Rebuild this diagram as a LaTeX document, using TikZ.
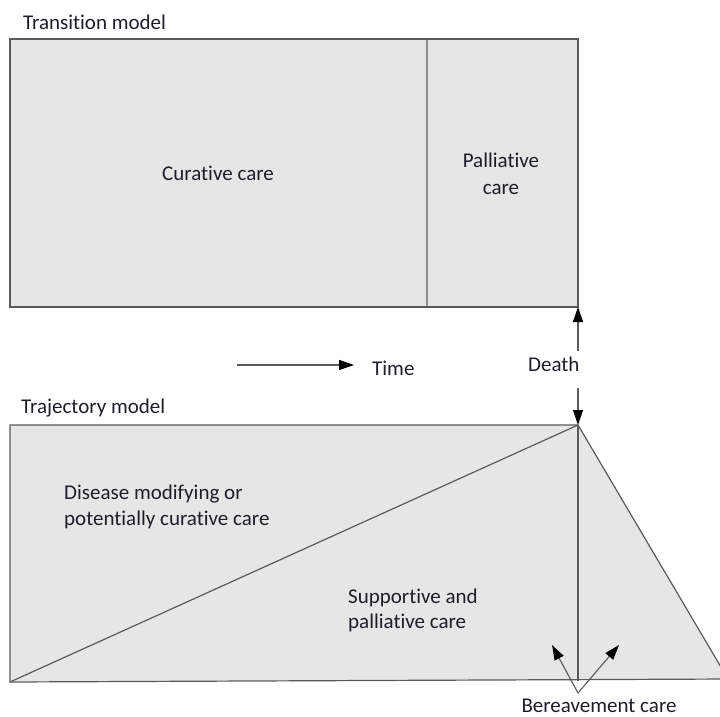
\documentclass[tikz,border=0pt]{standalone}
\usepackage{fontspec}
\setmainfont{Carlito}[Ligatures=NoCommon]
\usetikzlibrary{arrows.meta}
\definecolor{boxfill}{HTML}{E6E6E6}
\definecolor{edge}{HTML}{5A5A5A}
\definecolor{divider}{HTML}{8C8C8C}
\definecolor{txt}{HTML}{1E1E28}
\begin{document}
\begin{tikzpicture}[x=1pt,y=-1pt,
  lbl/.style={inner sep=0pt, text=txt, font=\fontsize{21}{26}\selectfont},
  areabox/.style={draw=edge, fill=boxfill, line width=1.2pt},
  ptr/.style={draw=edge, line width=1.1pt, -{Triangle[length=15pt,width=10pt,fill=black,color=black]}}
]
\useasboundingbox (0,0) rectangle (720,716);
\clip (0,0) rectangle (720,716);
% top model
\node[lbl, anchor=base west] (ttitle) at (23,29) {Transition model};
\draw[areabox] (10,39) rectangle (578,307);
\draw[divider, line width=2pt] (427,40) -- (427,306);
\coordinate (topcorner) at (578,307);
\node[lbl, anchor=base] (cur) at (218,180) {Curative care};
\node[lbl, anchor=base] (pal1) at (501,167) {Palliative};
\node[lbl, anchor=base] (pal2) at (501,194) {care};
% time
\coordinate (tstart) at (237,365);
\node[lbl, anchor=base west] (time) at (372,375) {Time};
\coordinate (tend) at (354,365);
\draw[ptr] (tstart) -- (tend);
% death
\node[lbl, anchor=base west] (death) at (528,371) {Death};
\coordinate (dup) at (578,351);
\coordinate (ddown) at (578,388);
% bottom model
\node[lbl, anchor=base west] (btitle) at (21,413) {Trajectory model};
\coordinate (bl) at (10,682);
\coordinate (tl) at (10,425);
\coordinate (tr) at (578,425);
\coordinate (br) at (578,680.5);
\draw[areabox] (bl) -- (tl) -- (tr) -- (728,679) -- cycle;
\draw[edge, line width=1.2pt] (bl) -- (tr);
\draw[edge, line width=1.3pt] (tr) -- (br);
\draw[ptr] (dup) -- (topcorner);
\draw[ptr] (ddown) -- (tr);
\node[lbl, anchor=base west] (dis1) at (64,499) {Disease modifying or};
\node[lbl, anchor=base west] (dis2) at (64,525) {potentially curative care};
\node[lbl, anchor=base west] (sup1) at (348,603) {Supportive and};
\node[lbl, anchor=base west] (sup2) at (348,628) {palliative care};
% bereavement
\coordinate (apex) at (578,693);
\coordinate (bleft) at (552,645);
\coordinate (bright) at (619,645);
\draw[ptr] (apex) -- (bleft);
\draw[ptr] (apex) -- (bright);
\node[lbl, anchor=base, text depth=0pt] (ber) at (599,712) {Bereavement care};
\end{tikzpicture}
\end{document}
